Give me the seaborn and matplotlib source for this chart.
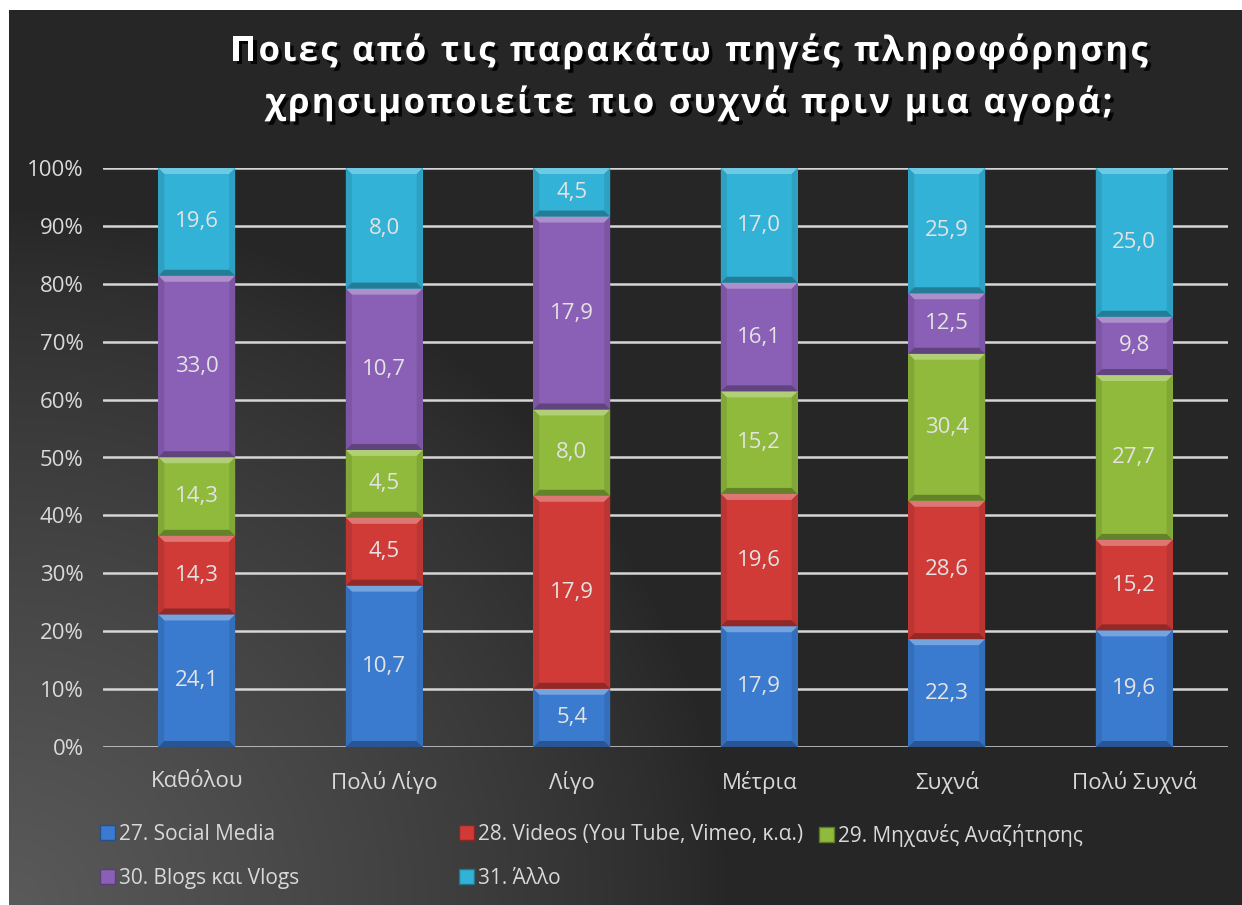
import numpy as np
import pandas as pd
import matplotlib
matplotlib.use("Agg")
import matplotlib.pyplot as plt
import seaborn as sns
from matplotlib import patheffects
from matplotlib.patches import Polygon, Patch
from matplotlib.colors import to_rgb

# ---- data -------------------------------------------------------------
categories = ["Καθόλου", "Πολύ Λίγο", "Λίγο", "Μέτρια", "Συχνά", "Πολύ Συχνά"]
series_names = [
    "27. Social Media",
    "28. Videos (You Tube, Vimeo, κ.α.)",
    "29. Μηχανές Αναζήτησης",
    "30. Blogs και Vlogs",
    "31. Άλλο",
]
social_media = [24.1, 10.7, 5.4, 17.9, 22.3, 19.6]
videos = [14.3, 4.5, 17.9, 19.6, 28.6, 15.2]
search_engines = [14.3, 4.5, 8.0, 15.2, 30.4, 27.7]
blogs_vlogs = [33.0, 10.7, 17.9, 16.1, 12.5, 9.8]
other = [19.6, 8.0, 4.5, 17.0, 25.9, 25.0]
y_ticks = [0, 10, 20, 30, 40, 50, 60, 70, 80, 90, 100]
title_lines = [
    "Ποιες από τις παρακάτω πηγές πληροφόρησης",
    "χρησιμοποιείτε πιο συχνά πριν μια αγορά;",
]

colors = ["#3a7bd0", "#d03b38", "#8fba3c", "#8a5fb6", "#33b2d7"]
text_grey = "#d9d9d9"

raw = pd.DataFrame(
    dict(zip(series_names, [social_media, videos, search_engines, blogs_vlogs, other])),
    index=categories,
)
share = raw.div(raw.sum(axis=1), axis=0) * 100

# ---- figure -----------------------------------------------------------
W, H = 1242, 905
sns.set_theme(style="dark")
plt.rcParams["font.family"] = ["Open Sans", "DejaVu Sans"]

fig = plt.figure(figsize=(W / 100, H / 100), dpi=100, facecolor="white")

# dark background with a soft light glow from the lower-left corner
bg_left, bg_top = 9, 10
bg = fig.add_axes([bg_left / W, 0, 1 - bg_left / W, 1 - bg_top / H], zorder=-10)
gx, gy = np.meshgrid(np.arange(W - bg_left), np.arange(H - bg_top))
r = np.sqrt((gx / 720.0) ** 2 + (((H - bg_top) - gy) / 700.0) ** 2)
glow = np.clip(1 - r, 0, 1) ** 0.8
val = (38 + (90 - 38) * glow) / 255.0
bg.imshow(np.dstack([val, val, val]), aspect="auto", interpolation="bilinear")
bg.set_axis_off()

ax = fig.add_axes([103 / W, 1 - 747 / H, 1125 / W, (747 - 168) / H])
ax.set_facecolor("none")

bottom = np.zeros(len(categories))
containers = []
for name, col in zip(series_names, colors):
    seg = pd.DataFrame({"cat": categories, "val": share[name].values})
    sns.barplot(
        data=seg, x="cat", y="val", color=col, saturation=1, width=0.41,
        bottom=bottom.copy(), errorbar=None, ax=ax, zorder=3,
        edgecolor="none", linewidth=0,
    )
    cont = ax.containers[-1]
    containers.append((cont, col))
    ax.bar_label(
        cont,
        labels=[f"{v:.1f}".replace(".", ",") for v in raw[name]],
        label_type="center", color="#e3e3e3", fontsize=16, zorder=6,
    )
    bottom += share[name].values

ax.set_ylim(0, 100)
ax.set_xlim(-0.5, len(categories) - 0.5)
ax.set_yticks(y_ticks)
ax.set_yticklabels([f"{t}%" for t in y_ticks])
ax.set_xlabel("")
ax.set_ylabel("")
ax.tick_params(axis="both", length=0, colors=text_grey, labelsize=16)
ax.tick_params(axis="x", pad=17)
ax.tick_params(axis="y", pad=14)
ax.yaxis.grid(True, color="#d6d6d6", linewidth=1.8)
ax.xaxis.grid(False)
ax.set_axisbelow(True)
for sp in ax.spines.values():
    sp.set_visible(False)


# bevelled look on every bar segment
def blend(c, other, t):
    c, o = np.array(to_rgb(c)), np.array(to_rgb(other))
    return tuple(c * (1 - t) + o * t)


ax_w_px = 1125
ax_h_px = 747 - 168
bev_x = 6 * (len(categories)) / ax_w_px
bev_y = 6 * 100 / ax_h_px
for cont, col in containers:
    light = blend(col, "white", 0.3)
    side = blend(col, "black", 0.1)
    dark = blend(col, "black", 0.3)
    for p in cont.patches:
        x0, y0 = p.get_x(), p.get_y()
        x1, y1 = x0 + p.get_width(), y0 + p.get_height()
        dx, dy = bev_x, min(bev_y, (y1 - y0) / 3)
        polys = [
            ([(x0, y1), (x1, y1), (x1 - dx, y1 - dy), (x0 + dx, y1 - dy)], light),
            ([(x0, y0), (x0 + dx, y0 + dy), (x0 + dx, y1 - dy), (x0, y1)], side),
            ([(x1, y0), (x1 - dx, y0 + dy), (x1 - dx, y1 - dy), (x1, y1)], side),
            ([(x0, y0), (x1, y0), (x1 - dx, y0 + dy), (x0 + dx, y0 + dy)], dark),
        ]
        for pts, fc in polys:
            ax.add_patch(Polygon(pts, closed=True, facecolor=fc, edgecolor="none", zorder=4))

# ---- legend (three columns, Excel-style flow) -------------------------
handles = [Patch(facecolor=c, edgecolor=blend(c, "black", 0.35), linewidth=1) for c in colors]
leg_kw = dict(
    frameon=False, fontsize=15, labelcolor=text_grey, handlelength=0.7,
    handleheight=0.7, handletextpad=0.2, labelspacing=1.1, borderpad=0,
    borderaxespad=0, loc="upper left",
)
fig.legend([handles[0], handles[3]], [series_names[0], series_names[3]],
           bbox_to_anchor=(100 / W, 1 - 824 / H), **leg_kw)
fig.legend([handles[1], handles[4]], [series_names[1], series_names[4]],
           bbox_to_anchor=(459 / W, 1 - 824 / H), **leg_kw)
fig.legend([handles[2]], [series_names[2]],
           bbox_to_anchor=(819 / W, 1 - 824 / H), **leg_kw)

# ---- title with letter tracking and drop shadow -----------------------
title_kw = dict(
    fontsize=25, fontweight="bold", color="white", family=["Open Sans", "DejaVu Sans"],
    path_effects=[patheffects.SimplePatchShadow(offset=(2.5, -2.5), shadow_rgbFace="black", alpha=0.85),
                  patheffects.Normal()],
)
renderer = fig.canvas.get_renderer()


def tracked_line(line, baseline_px, center_px, track_px, space_px):
    widths = []
    for ch in line:
        if ch == " ":
            widths.append(None)
            continue
        t = fig.text(0, 0, ch, **title_kw)
        widths.append(t.get_window_extent(renderer).width)
        t.remove()
    total = sum(space_px if w is None else w for w in widths) + track_px * (len(line) - 1)
    x = center_px - total / 2
    for ch, w in zip(line, widths):
        if w is None:
            x += space_px + track_px
            continue
        fig.text(x / W, 1 - baseline_px / H, ch, ha="left", va="baseline", **title_kw)
        x += w + track_px


tracked_line(title_lines[0], 61, 689, 2.3, 10)
tracked_line(title_lines[1], 113, 689, 2.3, 10)

fig.savefig("out.png", dpi=100, facecolor=fig.get_facecolor())
